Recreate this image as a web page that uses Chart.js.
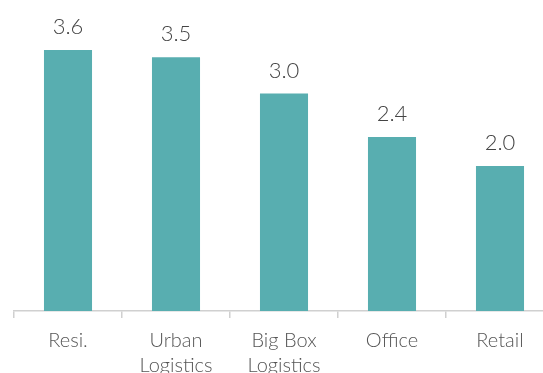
<!DOCTYPE html>
<html>
<head>
<meta charset="utf-8">
<script src="https://cdn.jsdelivr.net/npm/chart.js@4.4.1/dist/chart.umd.min.js"></script>
<style>
  html, body { margin: 0; padding: 0; background: #fff; overflow: hidden; }
  #wrap { width: 554px; height: 390px; }
</style>
</head>
<body>
<div id="wrap"><canvas id="yields"></canvas></div>
<script>
// categories and values
var categories = ['Resi.', ['Urban', 'Logistics'], ['Big Box', 'Logistics'], 'Office', 'Retail'];
var values = [3.6, 3.5, 3.0, 2.4, 2.0];

var fontFamily = 'Lato, "Open Sans", sans-serif';
var plotBottom = 311;

// draw the value above each bar
var valueLabels = {
  id: 'valueLabels',
  afterDatasetsDraw: function(chart) {
    var ctx = chart.ctx;
    var meta = chart.getDatasetMeta(0);
    ctx.save();
    ctx.font = '300 22px ' + fontFamily;
    ctx.fillStyle = '#444';
    ctx.textAlign = 'center';
    ctx.textBaseline = 'alphabetic';
    meta.data.forEach(function(bar, i) {
      ctx.fillText(values[i].toFixed(1), bar.x, bar.y - 16);
    });
    ctx.restore();
  }
};

new Chart('yields', {
  type: 'bar',
  data: {
    labels: categories,
    datasets: [{
      data: values,
      backgroundColor: '#58aeb0',
      barPercentage: 0.445,
      categoryPercentage: 1
    }]
  },
  options: {
    responsive: true,
    maintainAspectRatio: false,
    animation: false,
    layout: { padding: { left: 14, right: 0, top: 0, bottom: 0 } },
    plugins: { legend: { display: false }, tooltip: { enabled: false } },
    scales: {
      y: { display: false, min: 0, max: plotBottom / 72.5 },
      x: {
        afterFit: function(scale) { scale.height = 390 - plotBottom; },
        border: { color: '#d0d0d0', width: 1.5 },
        grid: {
          offset: true,
          drawOnChartArea: false,
          drawTicks: true,
          tickLength: 7,
          color: '#d0d0d0',
          lineWidth: 1.5
        },
        ticks: {
          color: '#555',
          padding: 10,
          font: { family: fontFamily, size: 20, weight: '300', lineHeight: 1.25 }
        }
      }
    }
  },
  plugins: [valueLabels]
});
</script>
</body>
</html>
